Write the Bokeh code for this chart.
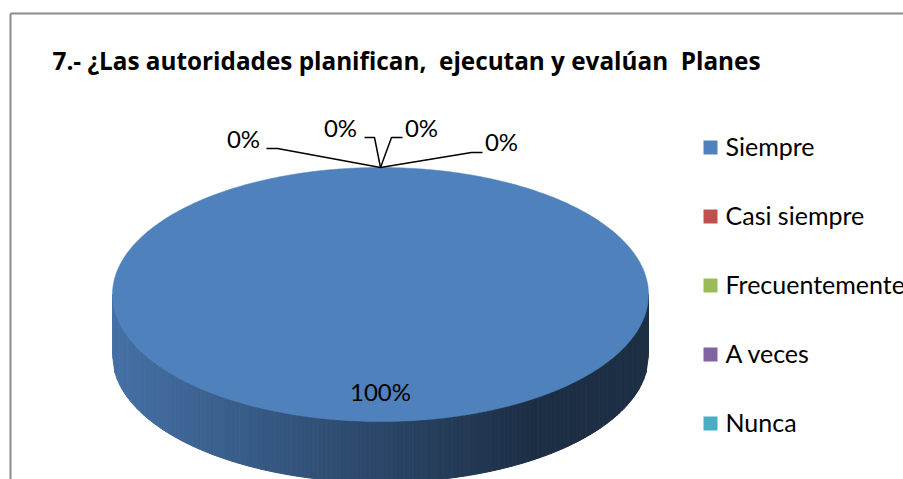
import numpy as np
from bokeh.plotting import figure
from bokeh.models import Range1d
from bokeh.core.properties import value
from bokeh.embed import file_html
from bokeh.resources import INLINE

# ---------------- data ----------------
title_text = "7.- ¿Las autoridades planifican,\u00a0 ejecutan y evalúan\u00a0 Planes"
categories = ["Siempre", "Casi siempre", "Frecuentemente", "A veces", "Nunca"]
percentages = [100, 0, 0, 0, 0]
colors = ["#4f81bd", "#c0504d", "#9bbb59", "#8064a2", "#4bacc6"]

# ---------------- layout (pixels) ----------------
W, H = 903, 479
FONT = "Lato"
TITLE_FONT = "Open Sans"
TXT_DY = -2   # baseline offset from the visual centre of a label
cx, cy, rx, ry, depth = 380.0, 294.0, 268.0, 127.0, 61.0

p = figure(width=W, height=H, x_range=Range1d(0, W), y_range=Range1d(H, 0),
           output_backend="svg", toolbar_location=None, min_border=0,
           x_axis_location=None, y_axis_location=None)
p.grid.visible = False
p.outline_line_color = None
p.background_fill_color = "white"
p.border_fill_color = "white"

# chart area border (left and top edges visible)
p.segment(x0=[10, 10], y0=[13, 13], x1=[10, W], y1=[H, 13],
          line_color="#8c8c8c", line_width=2)

# ---------------- pie geometry ----------------
total = float(sum(percentages))
starts, ends = [], []
acc = 0.0
for v in percentages:
    starts.append(acc / total * 360.0)
    acc += v
    ends.append(acc / total * 360.0)

def ept(theta_deg, fx=1.0, fy=1.0, dy=0.0):
    t = np.radians(theta_deg)
    return cx + fx * rx * np.sin(t), cy - fy * ry * np.cos(t) + dy

def hex_to_rgb(h):
    h = h.lstrip("#")
    return [int(h[i:i + 2], 16) for i in (0, 2, 4)]

def shade(h, f):
    r, g, b = hex_to_rgb(h)
    return "#%02x%02x%02x" % (int(r * f), int(g * f), int(b * f))

def slice_at(theta):
    theta = theta % 360.0
    for i, (s, e) in enumerate(zip(starts, ends)):
        if e > s and s <= theta < e:
            return i
    return 0

# side wall: vertical strips with a left-to-right darkening gradient
N = 220
xs_edges = np.linspace(cx - rx, cx + rx, N + 1)
side_xs, side_ys, side_cols = [], [], []
for k in range(N):
    x0, x1 = xs_edges[k], xs_edges[k + 1]
    u0 = np.clip((x0 - cx) / rx, -1, 1)
    u1 = np.clip((x1 - cx) / rx, -1, 1)
    yt0 = cy + ry * np.sqrt(max(0.0, 1 - u0 ** 2))
    yt1 = cy + ry * np.sqrt(max(0.0, 1 - u1 ** 2))
    xm = 0.5 * (x0 + x1)
    theta = 180.0 - np.degrees(np.arcsin(np.clip((xm - cx) / rx, -1, 1)))
    i = slice_at(theta)
    f = np.clip(0.88 - 0.51 * (xm - (cx - rx)) / 418.0, 0.37, 0.88)
    side_xs.append([x0, x1, x1, x0])
    side_ys.append([yt0, yt1, yt1 + depth, yt0 + depth])
    side_cols.append(shade(colors[i], f))
p.patches(xs=side_xs, ys=side_ys, fill_color=side_cols, line_color=side_cols, line_width=1)

# top faces
for i, v in enumerate(percentages):
    if v <= 0:
        continue
    th = np.linspace(starts[i], ends[i], 360)
    px, py = ept(th)
    if v < total:
        px = np.concatenate([[cx], px])
        py = np.concatenate([[cy], py])
    p.patch(x=px, y=py, fill_color=colors[i], line_color=colors[i], line_width=0.5)

# ---------------- data labels ----------------
inside_x, inside_y, inside_t = [], [], []
out_x, out_y, out_t = [], [], []
lead_xs, lead_ys = [], []
# offsets (label centre dx, dy, elbow dx, dy, end dx) relative to the slice edge point
zero_offsets = [(-137, -27, -103, -19, -114), (-40, -38, -6, -30, -16),
                (41, -38, 11, -30, 22), (121, -24, 91, -15, 102)]
zi = 0
for i, v in enumerate(percentages):
    lab = "%d%%" % round(v / total * 100)
    if v > 0:
        mid = 0.5 * (starts[i] + ends[i])
        lx, ly = ept(mid, 0.0 if v == total else 0.78, 0.78)
        inside_x.append(lx); inside_y.append(ly + TXT_DY); inside_t.append(lab)
    else:
        ax, ay = ept(starts[i])
        ldx, ldy, ex, ey, endx = zero_offsets[zi % len(zero_offsets)]
        zi += 1
        out_x.append(ax + ldx); out_y.append(ay + ldy + TXT_DY); out_t.append(lab)
        lead_xs.append([ax, ax + ex, ax + endx])
        lead_ys.append([ay, ay + ey, ay + ey])

p.multi_line(xs=lead_xs, ys=lead_ys, line_color="black", line_width=1.5)
p.text(x=out_x, y=out_y, text=out_t, text_align="center", text_baseline="alphabetic",
       text_font=value(FONT), text_font_size="24px", text_color="black")
p.text(x=inside_x, y=inside_y, text=inside_t, text_align="center", text_baseline="alphabetic",
       text_font=value(FONT), text_font_size="24px", text_color="black")

# ---------------- title ----------------
p.text(x=[52], y=[60], text=[title_text], text_align="left", text_baseline="alphabetic",
       text_font=value(TITLE_FONT), text_font_size="24.3px", text_font_style="bold",
       text_color="black")

# ---------------- legend ----------------
leg_y = [147 + 69 * i for i in range(len(categories))]
p.rect(x=[710] * len(categories), y=leg_y, width=14, height=14,
       fill_color=colors, line_color=None)
p.text(x=[725] * len(categories), y=[y + TXT_DY for y in leg_y], text=categories,
       text_align="left", text_baseline="alphabetic",
       text_font=value(FONT), text_font_size="25px", text_color="black")

open("out.html", "w").write(file_html(p, INLINE))
